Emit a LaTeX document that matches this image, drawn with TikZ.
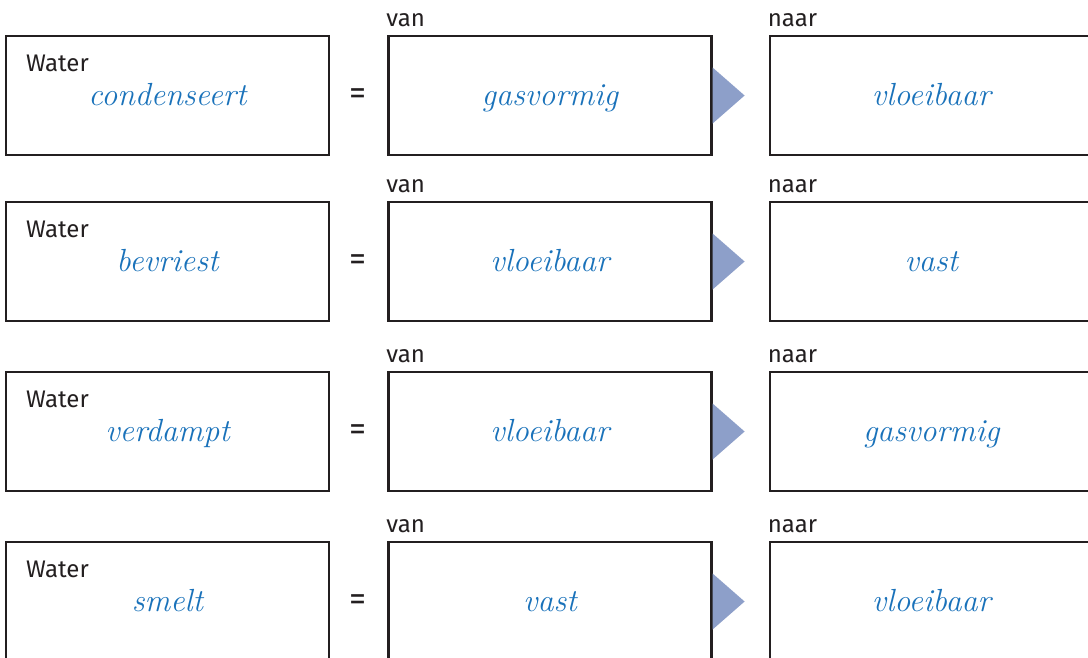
\documentclass[tikz,border=0pt]{standalone}
\usepackage{fontspec}
\newfontfamily\labelfont{Fira Sans}
\usetikzlibrary{positioning}
\definecolor{inkblue}{HTML}{1A72BA}
\definecolor{framegray}{HTML}{231F20}
\definecolor{arrowblue}{HTML}{8D9FC9}
\tikzset{
  box/.style={draw=framegray, line width=2.4pt, minimum width=323pt, minimum height=119pt, inner sep=0pt},
  tag/.style={font=\labelfont\fontsize{24}{28}\selectfont, text=framegray, inner sep=0pt},
  hand/.style={font=\itshape\fontsize{32}{38}\selectfont, text=inkblue, inner sep=0pt},
  wedge/.style={fill=arrowblue}
}
\begin{document}
\begin{tikzpicture}[x=1pt,y=-1pt]
      \useasboundingbox (0,0) rectangle (1088,657);
      \clip (0,0) rectangle (1088,657);
      % row 1
      \node[box] (w1) at (167.5,95.5) {};
      \node[box, right=57pt of w1] (v1) {};
      \node[box, right=56pt of v1] (n1) {};
      % row 2
      \node[box] (w2) at (167.5,261.5) {};
      \node[box, right=57pt of w2] (v2) {};
      \node[box, right=56pt of v2] (n2) {};
      % row 3
      \node[box] (w3) at (167.5,431.5) {};
      \node[box, right=57pt of w3] (v3) {};
      \node[box, right=56pt of v3] (n3) {};
      % row 4
      \node[box] (w4) at (167.5,601.5) {};
      \node[box, right=57pt of w4] (v4) {};
      \node[box, right=56pt of v4] (n4) {};
      \begin{scope}[wedge]
        \fill ([yshift=28pt]v1.east) -- ([xshift=32pt]v1.east) -- ([yshift=-28pt]v1.east) -- cycle;
        \fill ([yshift=28pt]v2.east) -- ([xshift=32pt]v2.east) -- ([yshift=-28pt]v2.east) -- cycle;
        \fill ([yshift=28pt]v3.east) -- ([xshift=32pt]v3.east) -- ([yshift=-28pt]v3.east) -- cycle;
        \fill ([yshift=28pt]v4.east) -- ([xshift=32pt]v4.east) -- ([yshift=-28pt]v4.east) -- cycle;
      \end{scope}
      \begin{scope}[tag]
        \node[anchor=base west] (wt1) at ([shift={(21pt,-37pt)}]w1.north west) {Water};
        \node[anchor=base west] (wt2) at ([shift={(21pt,-37pt)}]w2.north west) {Water};
        \node[anchor=base west] (wt3) at ([shift={(21pt,-37pt)}]w3.north west) {Water};
        \node[anchor=base west] (wt4) at ([shift={(21pt,-37pt)}]w4.north west) {Water};
        \node[anchor=base west] (vt1) at ([shift={(-1pt,8pt)}]v1.north west) {van};
        \node[anchor=base west] (vt2) at ([shift={(-1pt,8pt)}]v2.north west) {van};
        \node[anchor=base west] (vt3) at ([shift={(-1pt,8pt)}]v3.north west) {van};
        \node[anchor=base west] (vt4) at ([shift={(-1pt,8pt)}]v4.north west) {van};
        \node[anchor=base west] (nt1) at ([shift={(-1pt,8pt)}]n1.north west) {naar};
        \node[anchor=base west] (nt2) at ([shift={(-1pt,8pt)}]n2.north west) {naar};
        \node[anchor=base west] (nt3) at ([shift={(-1pt,8pt)}]n3.north west) {naar};
        \node[anchor=base west] (nt4) at ([shift={(-1pt,8pt)}]n4.north west) {naar};
        \node[font=\labelfont\fontsize{34}{38}\selectfont] (eq1) at (358,97) {=};
        \node[font=\labelfont\fontsize{34}{38}\selectfont] (eq2) at (358,263) {=};
        \node[font=\labelfont\fontsize{34}{38}\selectfont] (eq3) at (358,433) {=};
        \node[font=\labelfont\fontsize{34}{38}\selectfont] (eq4) at (358,603) {=};
      \end{scope}
      \begin{scope}[hand]
        \node[anchor=base] (h1) at ([yshift=-10pt]w1.center) {condenseert};
        \node[anchor=base] (f1) at ([yshift=-10pt]v1.center) {gasvormig};
        \node[anchor=base] (t1) at ([yshift=-10pt]n1.center) {vloeibaar};
        \node[anchor=base] (h2) at ([yshift=-10pt]w2.center) {bevriest};
        \node[anchor=base] (f2) at ([yshift=-10pt]v2.center) {vloeibaar};
        \node[anchor=base] (t2) at ([yshift=-10pt]n2.center) {vast};
        \node[anchor=base] (h3) at ([yshift=-10pt]w3.center) {verdampt};
        \node[anchor=base] (f3) at ([yshift=-10pt]v3.center) {vloeibaar};
        \node[anchor=base] (t3) at ([yshift=-10pt]n3.center) {gasvormig};
        \node[anchor=base] (h4) at ([yshift=-10pt]w4.center) {smelt};
        \node[anchor=base] (f4) at ([yshift=-10pt]v4.center) {vast};
        \node[anchor=base] (t4) at ([yshift=-10pt]n4.center) {vloeibaar};
      \end{scope}
    \end{tikzpicture}
\end{document}
